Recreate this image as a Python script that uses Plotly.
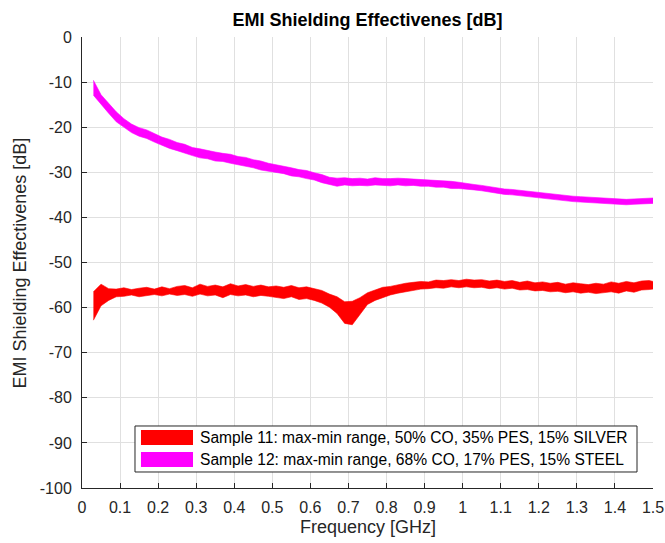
import plotly.graph_objects as go

freq_ghz = [0.03, 0.05, 0.07, 0.09, 0.11, 0.13, 0.15, 0.17, 0.19, 0.21, 0.23, 0.25, 0.27, 0.29,
            0.31, 0.33, 0.35, 0.37, 0.39, 0.41, 0.43, 0.45, 0.47, 0.49, 0.51, 0.53, 0.55, 0.57,
            0.59, 0.61, 0.63, 0.65, 0.67, 0.69, 0.71, 0.73, 0.75, 0.77, 0.79, 0.81, 0.83, 0.85,
            0.87, 0.89, 0.91, 0.93, 0.95, 0.97, 0.99, 1.01, 1.03, 1.05, 1.07, 1.09, 1.11, 1.13,
            1.15, 1.17, 1.19, 1.21, 1.23, 1.25, 1.27, 1.29, 1.31, 1.33, 1.35, 1.37, 1.39, 1.41,
            1.43, 1.45, 1.47, 1.49, 1.50]

s11_max = [-56.5, -54.8, -55.8, -55.9, -55.6, -56.0, -55.7, -55.5, -55.9, -55.4, -55.8, -55.3, -55.1, -55.6,
           -54.8, -55.3, -55.0, -55.4, -54.7, -55.2, -54.9, -55.3, -55.0, -55.4, -55.2, -55.5, -55.1, -55.6,
           -55.4, -55.8, -56.2, -57.0, -57.6, -58.7, -58.6, -57.8, -56.7, -56.1, -55.5, -55.3, -54.9, -54.6,
           -54.4, -54.2, -54.3, -53.9, -54.0, -53.8, -54.0, -53.7, -53.9, -53.8, -54.1, -53.9, -54.2, -54.0,
           -54.4, -54.1, -54.5, -54.3, -54.6, -54.4, -54.8, -54.5, -54.7, -54.9, -54.6, -54.8, -54.3, -54.6,
           -54.2, -54.5, -54.1, -54.0, -54.2]
s11_min = [-62.8, -59.6, -58.4, -57.6, -57.5, -57.2, -57.6, -57.3, -57.1, -57.4, -57.0, -57.3, -57.1, -57.5,
           -57.0, -57.4, -57.2, -57.8, -57.1, -57.4, -57.2, -57.6, -57.3, -57.5, -57.7, -58.0, -57.6, -58.2,
           -58.0, -58.4, -59.0, -59.9, -61.3, -63.5, -63.8, -61.6, -59.3, -58.4, -57.8, -57.2, -56.8, -56.5,
           -56.1, -55.9, -55.8, -55.6, -55.7, -55.4, -55.6, -55.4, -55.6, -55.5, -55.8, -55.6, -55.9, -55.7,
           -56.1, -56.0, -56.3, -56.2, -56.5, -56.4, -56.7, -56.5, -56.8, -56.6, -56.9, -56.7, -56.5, -56.8,
           -56.3, -56.6, -56.1, -56.0, -55.9]

s12_max = [-9.6, -12.8, -14.7, -16.6, -18.1, -19.3, -20.1, -20.6, -21.4, -22.2, -22.7, -23.4, -23.8, -24.5,
           -24.8, -25.2, -25.5, -25.8, -26.0, -26.5, -26.7, -27.2, -27.5, -28.0, -28.3, -28.7, -29.0, -29.4,
           -29.6, -30.1, -30.5, -31.1, -31.3, -31.2, -31.4, -31.3, -31.5, -31.2, -31.4, -31.4, -31.3, -31.4,
           -31.5, -31.5, -31.7, -31.7, -31.9, -32.0, -32.2, -32.5, -32.7, -32.9, -33.2, -33.4, -33.7, -33.8,
           -34.0, -34.2, -34.4, -34.5, -34.7, -34.9, -35.1, -35.3, -35.4, -35.5, -35.6, -35.8, -35.9, -35.9,
           -36.0, -35.9, -35.8, -35.7, -35.7]
s12_min = [-12.9, -15.0, -16.9, -18.8, -20.0, -21.2, -22.0, -22.5, -23.3, -24.0, -24.7, -25.2, -25.8, -26.3,
           -26.8, -27.0, -27.5, -27.6, -28.0, -28.3, -28.7, -29.0, -29.5, -29.8, -30.1, -30.3, -30.8, -31.0,
           -31.4, -31.7, -32.3, -32.7, -33.1, -32.8, -33.0, -32.9, -33.0, -32.8, -32.9, -33.0, -32.8, -33.0,
           -32.9, -33.1, -33.1, -33.3, -33.3, -33.6, -33.6, -33.7, -33.9, -34.1, -34.4, -34.6, -34.9, -35.0,
           -35.2, -35.4, -35.6, -35.7, -35.9, -36.1, -36.3, -36.5, -36.6, -36.7, -36.8, -37.0, -37.1, -37.1,
           -37.2, -37.1, -37.0, -36.9, -36.9]

series_names = ["Sample 11: max-min range, 50% CO, 35% PES, 15% SILVER",
                "Sample 12: max-min range, 68% CO, 17% PES, 15% STEEL"]
series_colors = ["#ff0000", "#ff00ff"]

x_tick_vals = [0, 0.1, 0.2, 0.3, 0.4, 0.5, 0.6, 0.7, 0.8, 0.9, 1.0, 1.1, 1.2, 1.3, 1.4, 1.5]
x_tick_text = ["0", "0.1", "0.2", "0.3", "0.4", "0.5", "0.6", "0.7", "0.8", "0.9", "1",
               "1.1", "1.2", "1.3", "1.4", "1.5"]
y_tick_vals = [0, -10, -20, -30, -40, -50, -60, -70, -80, -90, -100]
y_tick_text = ["0", "-10", "-20", "-30", "-40", "-50", "-60", "-70", "-80", "-90", "-100"]

FONT = "Arial, Liberation Sans, Helvetica, sans-serif"
TFONT = "Liberation Sans Narrow, Arial Narrow, Arial, sans-serif"
AX = "#262626"

fig = go.Figure()
for lo, hi, name, col in [(s11_min, s11_max, series_names[0], series_colors[0]),
                          (s12_min, s12_max, series_names[1], series_colors[1])]:
    fig.add_trace(go.Scatter(x=freq_ghz, y=lo, mode="lines", line=dict(width=0.6, color=col),
                             showlegend=False, hoverinfo="skip"))
    fig.add_trace(go.Scatter(x=freq_ghz, y=hi, mode="lines", line=dict(width=0.6, color=col),
                             fill="tonexty", fillcolor=col, name=name, showlegend=False))

# legend drawn in paper coordinates (MATLAB style box)
lx0, lx1, ly0, ly1 = 0.0928, 0.972, 0.0355, 0.1375
shapes = [dict(type="rect", xref="paper", yref="paper", x0=lx0, x1=lx1, y0=ly0, y1=ly1,
               line=dict(color=AX, width=1), fillcolor="white", layer="above")]
annotations = []
rows = [(0.0953, 0.1286, 0.112), (0.0466, 0.0798, 0.0632)]
for (y0, y1, yc), name, col in zip(rows, series_names, series_colors):
    shapes.append(dict(type="rect", xref="paper", yref="paper", x0=0.1033, x1=0.1944, y0=y0, y1=y1,
                       line=dict(width=0), fillcolor=col, layer="above"))
    annotations.append(dict(xref="paper", yref="paper", x=0.2032, y=yc, xanchor="left", yanchor="middle",
                            text=name, showarrow=False, font=dict(family=FONT, size=15.6, color="#000000")))

# axis titles
annotations.append(dict(xref="paper", yref="paper", x=0.5, y=-0.0865, xanchor="center", yanchor="middle",
                        text="Frequency [GHz]", showarrow=False, font=dict(family=FONT, size=18, color=AX)))
annotations.append(dict(xref="paper", yref="paper", x=-0.1086, y=0.5, xanchor="center", yanchor="middle",
                        text="EMI Shielding Effectivenes [dB]", textangle=-90, showarrow=False,
                        font=dict(family=FONT, size=18, color=AX)))

fig.update_layout(
    width=665, height=543,
    margin=dict(l=82, r=12, t=37, b=55, autoexpand=False),
    paper_bgcolor="white", plot_bgcolor="white",
    font=dict(family=FONT, size=16, color=AX),
    title=dict(text="<b>EMI Shielding Effectivenes [dB]</b>", x=0.5526, xanchor="center",
               y=1 - 20 / 543, yanchor="middle", yref="container",
               font=dict(family=TFONT, size=18, color="#000000")),
    shapes=shapes, annotations=annotations,
    showlegend=False,
)
fig.update_xaxes(range=[0, 1.5], tickvals=x_tick_vals, ticktext=x_tick_text, automargin=False,
                 showgrid=True, gridcolor="#e0e0e0", gridwidth=1, zeroline=False,
                 showline=True, linecolor=AX, linewidth=1, ticks="inside", ticklen=5, tickcolor=AX,
                 ticklabelstandoff=5,
                 tickfont=dict(family=FONT, size=16, color=AX))
fig.update_yaxes(range=[-100, 0], tickvals=y_tick_vals, ticktext=y_tick_text, automargin=False,
                 showgrid=True, gridcolor="#e0e0e0", gridwidth=1, zeroline=False,
                 showline=True, linecolor=AX, linewidth=1, ticks="inside", ticklen=5, tickcolor=AX,
                 ticklabelstandoff=6,
                 tickfont=dict(family=FONT, size=16, color=AX))

fig.write_html("out.html", config={"displayModeBar": False},
               post_script="document.body.style.margin='0';document.body.style.padding='0';")
